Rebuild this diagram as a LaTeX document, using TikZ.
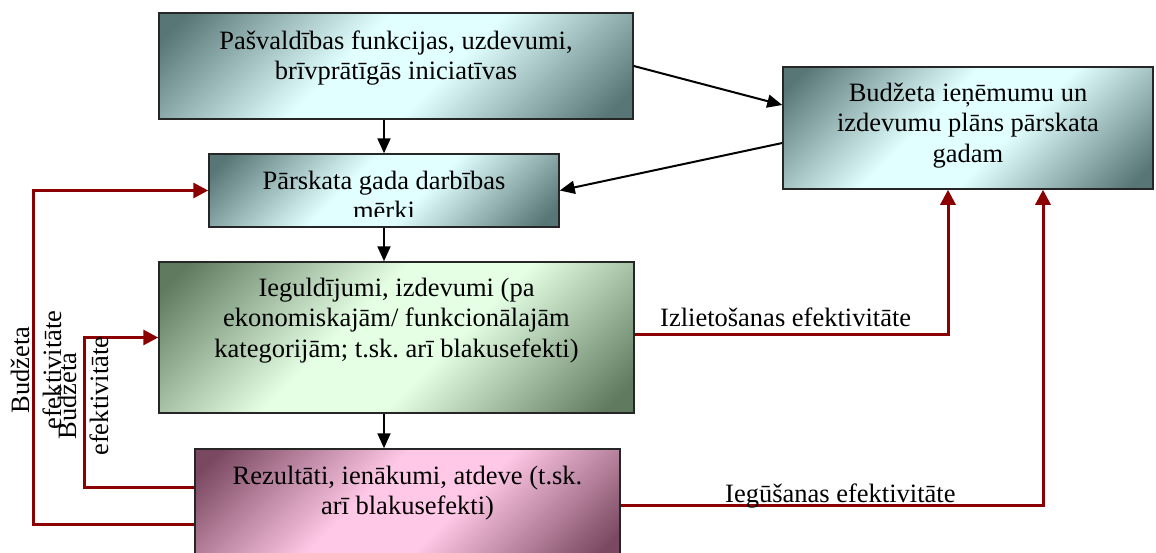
\documentclass[tikz,border=0pt]{standalone}
\usepackage{fontspec}
\setmainfont{Liberation Serif}
\usetikzlibrary{arrows.meta,calc}
\definecolor{tealdark}{RGB}{88,118,118}
\definecolor{teallight}{RGB}{226,255,255}
\definecolor{greendark}{RGB}{95,122,95}
\definecolor{greenlight}{RGB}{228,255,228}
\definecolor{pinkdark}{RGB}{122,72,96}
\definecolor{pinklight}{RGB}{255,200,230}
\definecolor{darkred}{RGB}{139,0,0}
\pgfdeclareverticalshading{tealsh}{100bp}{color(0bp)=(tealdark); color(18bp)=(tealdark); color(43bp)=(teallight); color(57bp)=(teallight); color(82bp)=(tealdark); color(100bp)=(tealdark)}
\pgfdeclareverticalshading{greensh}{100bp}{color(0bp)=(greendark); color(18bp)=(greendark); color(43bp)=(greenlight); color(57bp)=(greenlight); color(82bp)=(greendark); color(100bp)=(greendark)}
\pgfdeclareverticalshading{pinksh}{100bp}{color(0bp)=(pinkdark); color(18bp)=(pinkdark); color(43bp)=(pinklight); color(57bp)=(pinklight); color(82bp)=(pinkdark); color(100bp)=(pinkdark)}
\begin{document}
\frenchspacing
\begin{tikzpicture}[x=1pt,y=-1pt,
  box/.style={draw=black!85, line width=1.5pt, rectangle, inner sep=0pt},
  tealbox/.style={box, shade, shading=tealsh, shading angle=45},
  greenbox/.style={box, shade, shading=greensh, shading angle=45},
  pinkbox/.style={box, shade, shading=pinksh, shading angle=45},
  txt/.style={anchor=north, inner sep=0pt, align=center, font=\fontsize{26.5}{30.5}\selectfont},
  lbl/.style={inner sep=0pt, font=\fontsize{26.5}{32}\selectfont},
  blk/.style={draw=black, line width=2pt, -{Triangle[length=15pt,width=13pt]}},
  redc/.style={draw=darkred, line width=3pt, -{Triangle[length=15pt,width=15pt]}}
]
\useasboundingbox (0,0) rectangle (1156,552);
\clip (0,0) rectangle (1156,552);

% boxes
\node[tealbox, minimum width=474pt, minimum height=106pt] (b1) at (396,66) {};
\node[tealbox, minimum width=350pt, minimum height=73pt] (b2) at (384,190.5) {};
\node[tealbox, minimum width=370pt, minimum height=122pt] (R) at (968,128) {};
\node[greenbox, minimum width=475pt, minimum height=151pt] (b3) at (396.5,337.5) {};
\node[pinkbox, minimum width=425pt, minimum height=112pt] (b4) at (407.5,505) {};

% box texts
\node[txt] (t1) at ([yshift=-16pt]b1.north) {\rule{0pt}{21pt}Pašvaldības funkcijas, uzdevumi,\\brīvprātīgās iniciatīvas};
\begin{scope}
  \clip (b2.north west) rectangle ([yshift=11.5pt]b2.south east);
  \node[txt] (t2) at ([yshift=-15pt]b2.north) {\rule{0pt}{21pt}Pārskata gada darbības\\mērķi};
\end{scope}
\node[txt] (tR) at ([yshift=-14pt]R.north) {\rule{0pt}{21pt}Budžeta ieņēmumu un\\izdevumu plāns pārskata\\gadam};
\node[txt] (t3) at ([yshift=-14pt]b3.north) {\rule{0pt}{21pt}Ieguldījumi, izdevumi (pa\\ekonomiskajām/ funkcionālajām\\kategorijām; t.sk. arī blakusefekti)};
\node[txt] (t4) at ([yshift=-15pt]b4.north) {\rule{0pt}{21pt}Rezultāti, ienākumi, atdeve (t.sk.\\arī blakusefekti)};

% black connectors
\draw[blk] (b1.south -| b2.north) -- (b2.north);
\draw[blk] (b2.south) -- (b2.south |- b3.north);
\draw[blk] (b3.south -| b2.south) -- (b4.north -| b2.south);
\draw[blk] (b1.east) -- ([yshift=23pt]R.west);
\draw[blk] ([yshift=-15pt]R.west) -- (b2.east);

% red connectors
\coordinate (lx) at (33,0);
\coordinate (ix) at (84,0);
\draw[redc] ([yshift=-19pt]b4.west) -| (b2.west -| lx) -- (b2.west);
\draw[redc] ([yshift=18pt]b4.west) -| (b3.west -| ix) -- (b3.west);
\draw[redc] ([yshift=3pt]b3.east) -| ([xshift=-20pt]R.south);
\draw[redc] (b4.east) -| ([xshift=75pt]R.south);

% labels
\node[lbl, anchor=base west] (l1) at (660,326) {Izlietošanas efektivitāte};
\node[lbl, anchor=base west] (l2) at (725,502) {Iegūšanas efektivitāte};
\node[lbl, rotate=90, align=center] (l3) at (36,370) {Budžeta\\efektivitāte};
\node[lbl, rotate=90, align=center] (l4) at (83,396) {Budžeta\\efektivitāte};
\end{tikzpicture}
\end{document}
